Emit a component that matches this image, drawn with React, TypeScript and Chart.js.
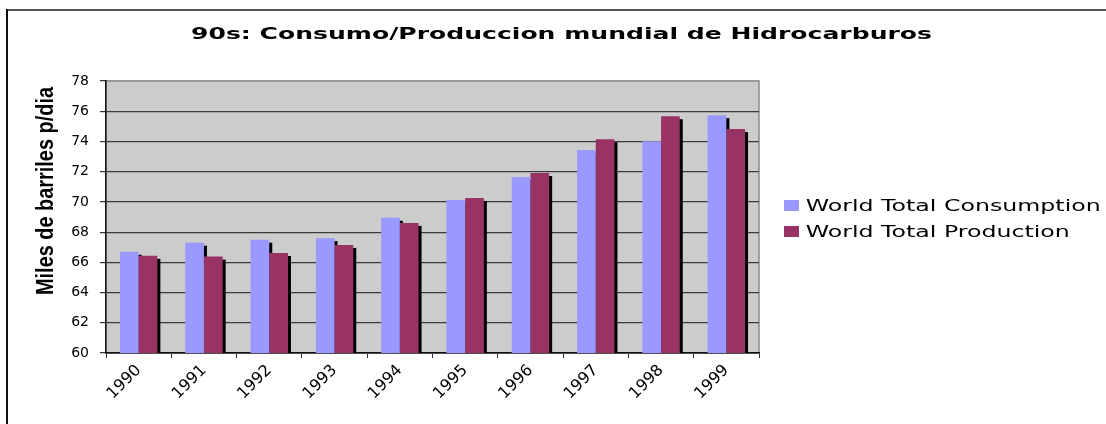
import React, { useEffect, useRef } from 'react';
import { Chart, registerables } from 'chart.js';

Chart.register(...registerables);

const TITLE = '90s: Consumo/Produccion mundial de Hidrocarburos';
const Y_TITLE = 'Miles de barriles p/dia';
const YEARS = ['1990', '1991', '1992', '1993', '1994', '1995', '1996', '1997', '1998', '1999'];
const SERIES_NAMES = ['World Total Consumption', 'World Total Production'];
const CONSUMPTION = [66.7, 67.3, 67.5, 67.6, 68.95, 70.13, 71.65, 73.43, 74.02, 75.74];
const PRODUCTION = [66.43, 66.38, 66.62, 67.15, 68.61, 70.26, 71.91, 74.15, 75.67, 74.82];
const SERIES_COLORS = ['#9999FF', '#993366'];
const Y_MIN = 60;
const Y_MAX = 78;
const Y_STEP = 2;

const drawStretched = (
  ctx: CanvasRenderingContext2D,
  text: string,
  x: number,
  y: number,
  targetWidth: number,
  align: CanvasTextAlign
) => {
  const w = ctx.measureText(text).width;
  const sx = targetWidth / w;
  ctx.save();
  ctx.translate(x, y);
  ctx.scale(sx, 1);
  ctx.textAlign = align;
  ctx.fillText(text, 0, 0);
  ctx.restore();
};

const decorPlugin = {
  id: 'decor',
  beforeDraw(chart: any) {
    const { ctx, chartArea: a } = chart;
    ctx.save();
    ctx.fillStyle = '#ffffff';
    ctx.fillRect(0, 0, chart.width, chart.height);
    // outer frame
    ctx.fillStyle = '#555555';
    ctx.fillRect(6, 9, chart.width - 6, 2);
    ctx.fillStyle = '#111111';
    ctx.fillRect(6, 9, 2, chart.height - 9);
    // plot background
    ctx.fillStyle = '#cccccc';
    ctx.fillRect(a.left, a.top, a.right - a.left, a.bottom - a.top);
    ctx.strokeStyle = '#8a8a8a';
    ctx.lineWidth = 1.5;
    ctx.strokeRect(a.left, a.top, a.right - a.left, a.bottom - a.top);
    ctx.restore();
  },
  beforeDatasetsDraw(chart: any) {
    const { ctx, chartArea: a } = chart;
    ctx.save();
    ctx.beginPath();
    ctx.rect(a.left, a.top, a.right - a.left, a.bottom - a.top);
    ctx.clip();
    ctx.fillStyle = '#000000';
    chart.data.datasets.forEach((_ds: any, i: number) => {
      const meta = chart.getDatasetMeta(i);
      meta.data.forEach((bar: any) => {
        const { x, y, base, width } = bar.getProps(['x', 'y', 'base', 'width'], true);
        ctx.fillRect(x - width / 2 + 3, y + 3, width, base - y - 3);
      });
    });
    ctx.restore();
  },
  afterDraw(chart: any) {
    const { ctx } = chart;
    ctx.save();
    ctx.fillStyle = '#000000';
    ctx.textBaseline = 'alphabetic';
    // title
    ctx.font = 'bold 15px "DejaVu Sans"';
    drawStretched(ctx, TITLE, 561.5, 39, 741, 'center');
    // legend
    ctx.font = '16px "DejaVu Sans"';
    const rows = [211, 237];
    chart.data.datasets.forEach((ds: any, i: number) => {
      ctx.fillStyle = ds.backgroundColor;
      ctx.fillRect(784, rows[i] - 11, 15, 11);
      ctx.fillStyle = '#000000';
      const target = 295 * (ctx.measureText(ds.label).width / ctx.measureText(SERIES_NAMES[0]).width);
      drawStretched(ctx, ds.label, 805.7, rows[i], target, 'left');
    });
    // y axis title
    ctx.font = 'bold 20px "Liberation Sans"';
    const w = ctx.measureText(Y_TITLE).width;
    ctx.save();
    ctx.translate(52.5, 191);
    ctx.rotate(-Math.PI / 2);
    ctx.scale(208 / w, 1.17);
    ctx.textAlign = 'center';
    ctx.fillText(Y_TITLE, 0, 0);
    ctx.restore();
    ctx.restore();
  },
};

export default function App() {
  const canvasRef = useRef<HTMLCanvasElement | null>(null);

  useEffect(() => {
    if (!canvasRef.current) return;
    Chart.defaults.font.family = '"DejaVu Sans", Verdana, sans-serif';
    const chart = new Chart(canvasRef.current, {
      type: 'bar',
      data: {
        labels: YEARS,
        datasets: [
          {
            label: SERIES_NAMES[0],
            data: CONSUMPTION,
            backgroundColor: SERIES_COLORS[0],
            borderWidth: 0,
            inflateAmount: 0,
            categoryPercentage: 0.573,
            barPercentage: 1,
          },
          {
            label: SERIES_NAMES[1],
            data: PRODUCTION,
            backgroundColor: SERIES_COLORS[1],
            borderWidth: 0,
            inflateAmount: 0,
            categoryPercentage: 0.573,
            barPercentage: 1,
          },
        ],
      },
      options: {
        responsive: false,
        animation: false,
        devicePixelRatio: 1,
        layout: { padding: { left: 0, top: 81, right: 347, bottom: 0 } },
        plugins: {
          legend: { display: false },
          title: { display: false },
          tooltip: { enabled: false },
        },
        scales: {
          x: {
            grid: {
              display: true,
              drawOnChartArea: false,
              drawTicks: true,
              tickLength: 5,
              color: '#333333',
              offset: true,
            },
            border: { display: true, color: '#111111', width: 1.5 },
            ticks: {
              maxRotation: 45,
              minRotation: 45,
              color: '#000000',
              padding: 3,
              font: { family: '"DejaVu Sans"', size: 16 },
            },
            afterFit: (s: any) => {
              s.height = 71;
            },
          },
          y: {
            min: Y_MIN,
            max: Y_MAX,
            ticks: {
              stepSize: Y_STEP,
              color: '#000000',
              padding: 11,
              font: { family: '"DejaVu Sans"', size: 14 },
            },
            grid: {
              color: (c: any) => (c.tick && c.tick.value === Y_MAX ? '#9a9a9a' : '#3a3a3a'),
              lineWidth: 1.2,
              tickLength: 6,
              tickColor: '#333333',
            },
            border: { display: true, color: '#111111', width: 1.5 },
            afterFit: (s: any) => {
              s.width = 106;
            },
          },
        },
      },
      plugins: [decorPlugin],
    });
    return () => chart.destroy();
  }, []);

  return (
    <div style={{ position: 'absolute', left: 0, top: 0, width: 1106, height: 424 }}>
      <canvas ref={canvasRef} width={1106} height={424} style={{ display: 'block', width: 1106, height: 424 }} />
    </div>
  );
}
